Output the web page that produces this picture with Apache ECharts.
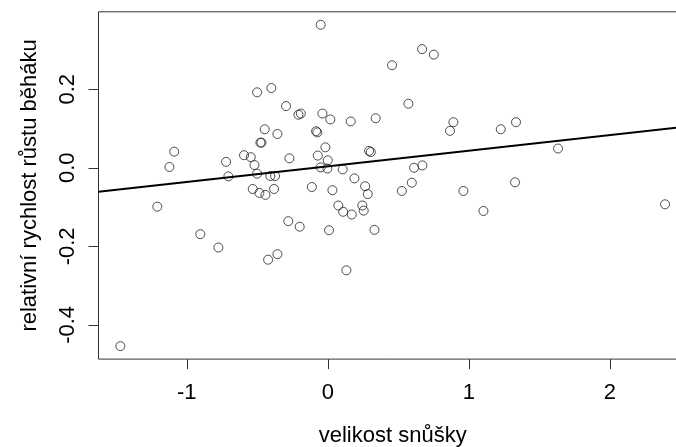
<!DOCTYPE html>
<html>
<head>
<meta charset="utf-8">
<script src="https://cdn.jsdelivr.net/npm/echarts@6/dist/echarts.min.js"></script>
<style>html,body{margin:0;padding:0;background:#fff}#c{width:676px;height:447px}</style>
</head>
<body>
<div id="c"></div>
<script>
// velikost snůšky (x) values
var clutchSize = [
 -1.089,-1.123,-0.721,-0.705,-0.501,-0.400,-0.296,-0.447,-0.357,-0.478,
 -0.470,-0.594,-0.546,-0.520,-0.501,-0.407,-0.374,-0.272,-0.050,0.669,
 0.752,0.456,0.572,-0.208,-0.191,-0.038,0.018,0.163,0.340,0.891,
 0.867,-0.083,-0.074,-0.017,-0.071,0.000,-0.050,-0.003,0.106,0.293,
 0.305,0.612,0.671,0.189,1.227,1.335,1.633,1.328,-1.209,-0.532,
 -0.485,-0.442,-0.381,-0.280,-0.904,-0.776,-0.423,-0.357,-1.471,-0.113,
 0.033,0.265,0.284,0.075,0.109,0.170,0.245,0.255,0.525,0.596,
 0.962,1.104,-0.199,0.009,0.331,0.132,2.392
];
// relativní rychlost růstu běháku (y) values
var growthRate = [
 0.041,0.002,0.015,-0.022,0.192,0.203,0.157,0.098,0.086,0.064,
 0.064,0.032,0.027,0.007,-0.015,-0.021,-0.021,0.024,0.364,0.302,
 0.288,0.261,0.163,0.135,0.138,0.138,0.123,0.118,0.126,0.116,
 0.094,0.093,0.090,0.052,0.031,0.019,0.001,-0.002,-0.004,0.043,
 0.040,0.000,0.006,-0.027,0.098,0.116,0.049,-0.037,-0.099,-0.054,
 -0.064,-0.069,-0.054,-0.136,-0.169,-0.203,-0.234,-0.220,-0.454,-0.049,
 -0.057,-0.047,-0.067,-0.096,-0.112,-0.119,-0.096,-0.109,-0.059,-0.038,
 -0.059,-0.110,-0.150,-0.159,-0.158,-0.261,-0.093
];
// fitted regression line coefficients
var fitIntercept = 0.0037;
var fitSlope = 0.0398;
// tick labels
var xTicks = [-1, 0, 1, 2];
var yTicks = [-0.4, -0.2, 0, 0.2];

var xMin = -1.626, xMax = 2.547, yMin = -0.487, yMax = 0.397;

var points = clutchSize.map(function (x, i) { return [x, growthRate[i]]; });
var fitLine = [[xMin, fitIntercept + fitSlope * xMin], [xMax, fitIntercept + fitSlope * xMax]];

var font = 'Liberation Sans, Arial, Helvetica, sans-serif';
var chart = echarts.init(document.getElementById('c'), null, {renderer: 'canvas'});
chart.setOption({
  animation: false,
  backgroundColor: '#ffffff',
  grid: {left: 98.5, top: 11.8, width: 588.4, height: 347.3, containLabel: false, outerBoundsMode: 'none',
    show: true, borderColor: '#333', borderWidth: 1, backgroundColor: 'transparent'},
  xAxis: {
    type: 'value', min: xMin, max: xMax,
    name: 'velikost snůšky', nameLocation: 'middle', nameGap: 66,
    nameTextStyle: {fontFamily: font, fontSize: 22, color: '#000'},
    axisLine: {show: false, onZero: false},
    splitLine: {show: false},
    axisTick: {show: true, length: 10, inside: false, customValues: xTicks, lineStyle: {color: '#333', width: 1}},
    axisLabel: {customValues: xTicks, margin: 23, fontFamily: font, fontSize: 22, color: '#000',
      formatter: function (v) { return String(v); }}
  },
  yAxis: {
    type: 'value', min: yMin, max: yMax,
    name: 'relativní rychlost růstu běháku', nameLocation: 'middle', nameGap: 58, nameRotate: 90,
    nameTextStyle: {fontFamily: font, fontSize: 22, color: '#000'},
    axisLine: {show: false, onZero: false},
    splitLine: {show: false},
    axisTick: {show: true, length: 10, inside: false, customValues: yTicks, lineStyle: {color: '#333', width: 1}},
    axisLabel: {customValues: yTicks, margin: 20, rotate: 90, fontFamily: font, fontSize: 22, color: '#000',
      formatter: function (v) { return v.toFixed(1); }}
  },
  series: [
    {
      type: 'scatter', data: points, symbol: 'circle', symbolSize: 9,
      itemStyle: {color: 'rgba(0,0,0,0)', borderColor: '#222', borderWidth: 1},
      z: 3
    },
    {
      type: 'line', data: fitLine, showSymbol: false, symbol: 'none',
      lineStyle: {color: '#000', width: 2}, z: 4
    }
  ]
});
</script>
</body>
</html>
